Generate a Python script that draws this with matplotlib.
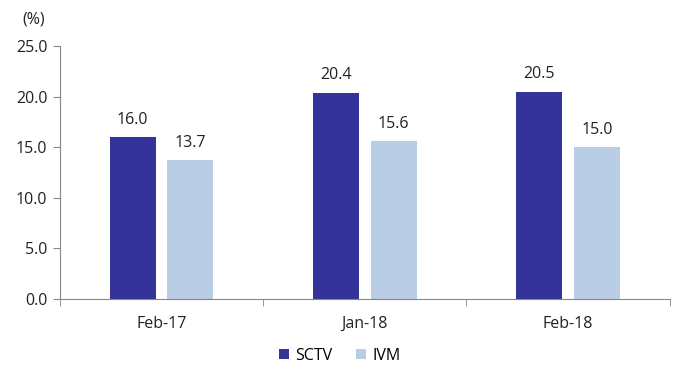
import numpy as np
import matplotlib.pyplot as plt

categories = ["Feb-17", "Jan-18", "Feb-18"]
sctv = [16.0, 20.4, 20.5]
ivm = [13.7, 15.6, 15.0]

plt.rcParams['font.family'] = ['Open Sans', 'DejaVu Sans']

fig = plt.figure(figsize=(6.8, 3.71), dpi=100)
ax = fig.add_axes([0.088, 0.194, 0.897, 0.682])

x = np.arange(len(categories))
w = 0.226
b1 = ax.bar(x - 0.142, sctv, w, color="#333399", label="SCTV")
b2 = ax.bar(x + 0.142, ivm, w, color="#B9CDE5", label="IVM")

fs = 11.5
for bars, vals in [(b1, sctv), (b2, ivm)]:
    for r, v in zip(bars, vals):
        ax.text(r.get_x() + r.get_width() / 2, v + 0.9, f"{v:.1f}",
                ha="center", va="bottom", fontsize=fs, color="#222222")

ax.set_xlim(-0.5, 2.5)
ax.set_ylim(0, 25)
ax.set_yticks(np.arange(0, 25.1, 5))
ax.set_yticklabels([f"{t:.1f}" for t in np.arange(0, 25.1, 5)])
ax.set_xticks(x)
ax.set_xticklabels(categories)
ax.set_xticks([-0.5, 0.5, 1.5, 2.5], minor=True)
ax.tick_params(axis="x", which="major", length=0, pad=12, labelsize=fs, labelcolor="#222222")
ax.tick_params(axis="x", which="minor", length=5, color="#888888")
ax.tick_params(axis="y", length=5, color="#888888", labelsize=fs, pad=4, labelcolor="#222222")

for s in ["top", "right"]:
    ax.spines[s].set_visible(False)
ax.spines["left"].set_color("#888888")
ax.spines["bottom"].set_color("#888888")

fig.text(0.05, 0.97, "(%)", ha="center", va="top", fontsize=fs, color="#222222")

fig.legend(handles=[b1, b2], loc="lower center", bbox_to_anchor=(0.5, -0.02),
           ncol=2, frameon=False, fontsize=fs, handlelength=0.6,
           handleheight=0.6, handletextpad=0.4, columnspacing=1.5)

fig.savefig("out.png", dpi=100)
